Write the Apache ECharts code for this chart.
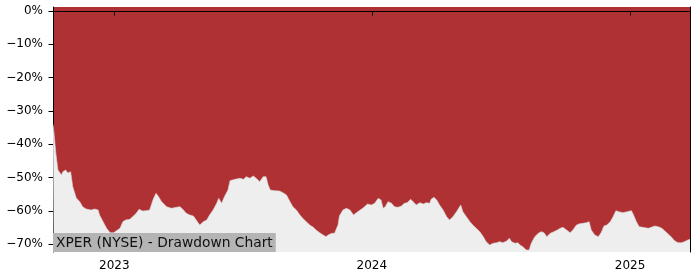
<!DOCTYPE html>
<html>
<head>
<meta charset="utf-8">
<script src="https://cdn.jsdelivr.net/npm/echarts@6/dist/echarts.min.js"></script>
<style>html,body{margin:0;padding:0;background:#fff}#c{width:700px;height:280px}</style>
</head>
<body>
<div id="c"></div>
<script>
const titleText = 'XPER (NYSE) - Drawdown Chart';
const yTicks = [0, -10, -20, -30, -40, -50, -60, -70];
const xTickDates = ['2023-01-01', '2024-01-01', '2025-01-01'];
const xRange = ['2022-10-06', '2025-03-27'];
const yRange = [-72.3, 1.2];

const dates = [
'2022-10-06','2022-10-07','2022-10-10','2022-10-13','2022-10-18','2022-10-20','2022-10-24','2022-10-27','2022-10-31',
'2022-11-03','2022-11-08','2022-11-13','2022-11-17','2022-11-22','2022-11-29','2022-12-04','2022-12-09','2022-12-11',
'2022-12-16','2022-12-21','2022-12-26','2022-12-31','2023-01-04','2023-01-09','2023-01-13','2023-01-17','2023-01-23',
'2023-01-28','2023-02-01','2023-02-05','2023-02-10','2023-02-15','2023-02-20','2023-02-25','2023-03-01','2023-03-04',
'2023-03-09','2023-03-16','2023-03-23','2023-03-30','2023-04-04','2023-04-08','2023-04-13','2023-04-18','2023-04-23',
'2023-04-27','2023-05-02','2023-05-07','2023-05-12','2023-05-16','2023-05-21','2023-05-26','2023-05-29','2023-06-02',
'2023-06-06','2023-06-11','2023-06-14','2023-06-21','2023-06-28','2023-07-03','2023-07-07','2023-07-12','2023-07-17',
'2023-07-21','2023-07-26','2023-07-31','2023-08-04','2023-08-07','2023-08-10','2023-08-16','2023-08-23','2023-08-28',
'2023-09-02','2023-09-07','2023-09-11','2023-09-16','2023-09-21','2023-09-25','2023-09-30','2023-10-05','2023-10-10',
'2023-10-14','2023-10-19','2023-10-24','2023-10-28','2023-10-31','2023-11-05','2023-11-09','2023-11-14','2023-11-16',
'2023-11-21','2023-11-26','2023-12-01','2023-12-06','2023-12-12','2023-12-19','2023-12-26','2023-12-31','2024-01-05',
'2024-01-10','2024-01-14','2024-01-17','2024-01-20','2024-01-24','2024-01-29','2024-02-02','2024-02-07','2024-02-12',
'2024-02-16','2024-02-20','2024-02-25','2024-03-01','2024-03-04','2024-03-09','2024-03-14','2024-03-18','2024-03-23',
'2024-03-25','2024-03-29','2024-04-02','2024-04-06','2024-04-11','2024-04-16','2024-04-20','2024-04-25','2024-04-30',
'2024-05-06','2024-05-09','2024-05-14','2024-05-19','2024-05-23','2024-05-28','2024-06-02','2024-06-07','2024-06-11',
'2024-06-16','2024-06-21','2024-06-26','2024-06-30','2024-07-05','2024-07-10','2024-07-14','2024-07-17','2024-07-22',
'2024-07-26','2024-07-29','2024-08-02','2024-08-07','2024-08-11','2024-08-14','2024-08-19','2024-08-24','2024-08-28',
'2024-09-01','2024-09-05','2024-09-10','2024-09-15','2024-09-20','2024-09-24','2024-09-28','2024-10-03','2024-10-08',
'2024-10-12','2024-10-17','2024-10-22','2024-10-26','2024-10-31','2024-11-04','2024-11-07','2024-11-12','2024-11-17',
'2024-11-21','2024-11-25','2024-11-29','2024-12-04','2024-12-08','2024-12-12','2024-12-16','2024-12-22','2024-12-28',
'2025-01-03','2025-01-06','2025-01-10','2025-01-14','2025-01-19','2025-01-27','2025-01-31','2025-02-05','2025-02-10',
'2025-02-15','2025-02-19','2025-02-24','2025-03-01','2025-03-05','2025-03-10','2025-03-15','2025-03-19','2025-03-24',
'2025-03-27'
];
const drawdown = [
-34.0,-35.7,-42.6,-47.7,-49.2,-48.2,-47.7,-48.6,-48.2,
-52.7,-56.1,-57.2,-58.7,-59.4,-59.7,-59.4,-59.7,-61.2,
-63.2,-65.2,-66.5,-66.5,-65.9,-65.2,-63.2,-62.7,-62.5,
-61.5,-60.7,-59.5,-60.0,-59.9,-59.7,-56.5,-54.7,-55.5,
-57.2,-58.7,-59.2,-58.9,-58.7,-59.5,-60.7,-61.2,-61.5,
-62.7,-64.2,-63.2,-62.7,-61.2,-59.7,-57.7,-56.2,-57.7,
-55.7,-53.7,-50.9,-50.5,-50.2,-50.5,-49.7,-50.2,-49.5,
-50.2,-51.2,-49.7,-49.7,-52.2,-53.7,-53.9,-54.0,-54.5,
-55.2,-57.2,-58.7,-59.7,-61.2,-62.2,-63.2,-64.2,-64.9,
-65.7,-66.5,-67.2,-67.7,-67.2,-66.7,-66.7,-64.2,-61.5,
-59.7,-59.2,-59.7,-61.2,-60.2,-59.2,-57.9,-58.2,-57.7,
-56.2,-56.7,-59.2,-58.7,-57.2,-57.7,-58.7,-58.9,-58.5,
-57.7,-57.5,-56.5,-57.5,-58.2,-57.5,-57.9,-57.5,-57.7,
-56.5,-55.9,-56.7,-58.2,-59.7,-61.7,-62.7,-61.7,-60.2,
-58.2,-60.2,-61.7,-63.2,-64.2,-65.2,-66.2,-67.7,-69.2,
-70.2,-69.7,-69.5,-69.2,-69.5,-69.0,-68.2,-69.2,-69.7,
-69.5,-70.2,-70.7,-71.7,-71.7,-69.7,-67.7,-66.7,-66.2,
-66.5,-67.7,-66.7,-66.2,-65.7,-65.2,-64.9,-65.7,-66.5,
-65.7,-64.2,-63.8,-63.7,-63.5,-63.2,-65.7,-67.2,-67.7,
-66.5,-64.5,-64.2,-63.2,-61.7,-59.9,-60.2,-60.5,-60.2,
-59.9,-61.2,-63.2,-64.7,-64.9,-65.2,-64.9,-64.5,-64.7,
-65.2,-65.9,-66.9,-67.9,-68.9,-69.5,-69.5,-69.2,-68.7,
-68.5
];

const FONT = 'DejaVu Sans';
const toTs = d => Date.UTC(+d.slice(0, 4), +d.slice(5, 7) - 1, +d.slice(8, 10));
const chart = echarts.init(document.getElementById('c'), null, {renderer: 'canvas'});
const seriesData = dates.map((d, i) => [toTs(d), drawdown[i]]);
const xTickValues = xTickDates.map(toTs);
const fmtPct = v => (v < 0 ? '\u2212' + Math.abs(v) : String(v)) + '%';

chart.setOption({
  animation: false,
  backgroundColor: '#ffffff',
  title: {
    text: titleText,
    left: 53, top: 233,
    padding: [2, 3, 1, 3],
    backgroundColor: '#b4b4b4',
    textStyle: {fontFamily: FONT, fontSize: 13.8, fontWeight: 'normal', color: '#111', lineHeight: 16},
    z: 10
  },
  grid: {
    left: 53, right: 10, top: 7, bottom: 28,
    show: true, backgroundColor: '#b03133', borderWidth: 0
  },
  xAxis: [{
    type: 'value',
    min: toTs(xRange[0]), max: toTs(xRange[1]),
    axisLine: {show: true, lineStyle: {color: '#000', width: 1}},
    axisTick: {show: true, customValues: xTickValues, length: 4.5, lineStyle: {color: '#000'}},
    axisLabel: {show: true, customValues: xTickValues, margin: 8, color: '#000', fontFamily: FONT, fontSize: 12,
      formatter: v => String(new Date(v).getUTCFullYear())},
    splitLine: {show: false}
  }, {
    type: 'value', position: 'top',
    min: toTs(xRange[0]), max: toTs(xRange[1]),
    axisLine: {show: true, lineStyle: {color: '#000', width: 1}},
    axisTick: {show: false}, axisLabel: {show: false}, splitLine: {show: false}
  }],
  yAxis: [{
    type: 'value',
    min: yRange[0], max: yRange[1],
    axisLine: {show: true, lineStyle: {color: '#000', width: 1}},
    axisTick: {show: true, customValues: yTicks, length: 4.5, lineStyle: {color: '#000'}},
    axisLabel: {show: true, customValues: yTicks, margin: 10, color: '#000', fontFamily: FONT, fontSize: 12,
      formatter: fmtPct},
    splitLine: {show: false}
  }, {
    type: 'value', position: 'right',
    min: yRange[0], max: yRange[1],
    axisLine: {show: true, lineStyle: {color: '#000', width: 1}},
    axisTick: {show: false}, axisLabel: {show: false}, splitLine: {show: false}
  }],
  series: [{
    type: 'line',
    data: seriesData,
    showSymbol: false,
    symbol: 'none',
    lineStyle: {color: '#d8d8d8', width: 0.6},
    areaStyle: {color: '#eeeeee', opacity: 1, origin: 'start'},
    z: 2
  }]
});
</script>
</body>
</html>
